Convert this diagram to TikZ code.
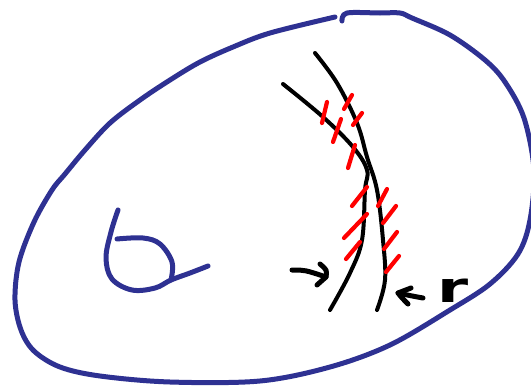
\documentclass[tikz,border=0pt]{standalone}
\usepackage{fontspec}
\setmainfont{DejaVu Sans}
\begin{document}
\begin{tikzpicture}[x=1pt,y=-1pt,
  bluepen/.style={draw={rgb,255:red,46;green,49;blue,146},line width=5pt,line cap=round,line join=round},
  blackpen/.style={draw=black,line width=4pt,line cap=round,line join=round},
  redpen/.style={draw=red,line width=4.2pt,line cap=round},
  arrowpen/.style={draw=black,line width=5pt,line cap=round,line join=round}]
\useasboundingbox (0,0) rectangle (531,386);
\clip (0,0) rectangle (531,386);
% outer blue loop
\draw[bluepen] plot[smooth,tension=0.55] coordinates {(342,21) (347,13) (380,13) (400,13) (412,18) (450,35) (485,60) (505,82) (524,118) (534,170) (530,220) (518,254) (490,284) (450,310) (390,345) (330,367) (260,381) (170,382) (100,376) (60,367) (34,351) (21,330) (15,300) (19,262) (34,222) (52,190) (65,174) (85,150) (110,123) (140,100) (170,80) (200,62) (233,47) (270,33) (335,17)};
% small blue loop
\draw[bluepen] plot[smooth,tension=0.6] coordinates {(118,210) (111,232) (106,258) (112,279) (132,290) (155,288) (171,280) (190,273) (208,266)};
\draw[bluepen] plot[smooth,tension=0.6] coordinates {(117,239) (143,238) (160,244) (172,262) (171,280)};
% black curves
\draw[blackpen] plot[smooth,tension=0.6] coordinates {(283,84) (323,117) (353,147) (367,170) (365,190) (362,240) (350,273) (330,310)};
\draw[blackpen] plot[smooth,tension=0.6] coordinates {(315,53) (337,83) (357,123) (367,157) (377,190) (383,240) (385,280) (377,310)};
% red ticks
\draw[redpen] (322,123) -- (327,102);
\draw[redpen] (344,109) -- (352,95);
\draw[redpen] (333,142) -- (341,119);
\draw[redpen] (353,125) -- (362,113);
\draw[redpen] (348,168) -- (355,145);
\draw[redpen] (352,206) -- (367,187);
\draw[redpen] (344,238) -- (367,214);
\draw[redpen] (346,259) -- (360,242);
\draw[redpen] (378,206) -- (387,189);
\draw[redpen] (383,223) -- (396,206);
\draw[redpen] (384,249) -- (397,232);
\draw[redpen] (386,272) -- (399,256);
% arrows
\coordinate (la) at (292,270);
\coordinate (lt) at (326,277);
\draw[arrowpen] (la) .. controls (305,270) .. (lt);
\draw[arrowpen] (320,264) .. controls (327,270) .. (lt) -- (317,285);
\coordinate (ra) at (423,298);
\coordinate (rt) at (398,293);
\draw[arrowpen] (ra) .. controls (412,296) .. (rt);
\draw[arrowpen] (411,288) -- (rt) .. controls (402,298) .. (408,304);
% label r
\node[font=\fontsize{42}{42}\selectfont\bfseries, xscale=1.5, inner sep=0pt, anchor=base] (r) at (453,302) {r};
\end{tikzpicture}
\end{document}
